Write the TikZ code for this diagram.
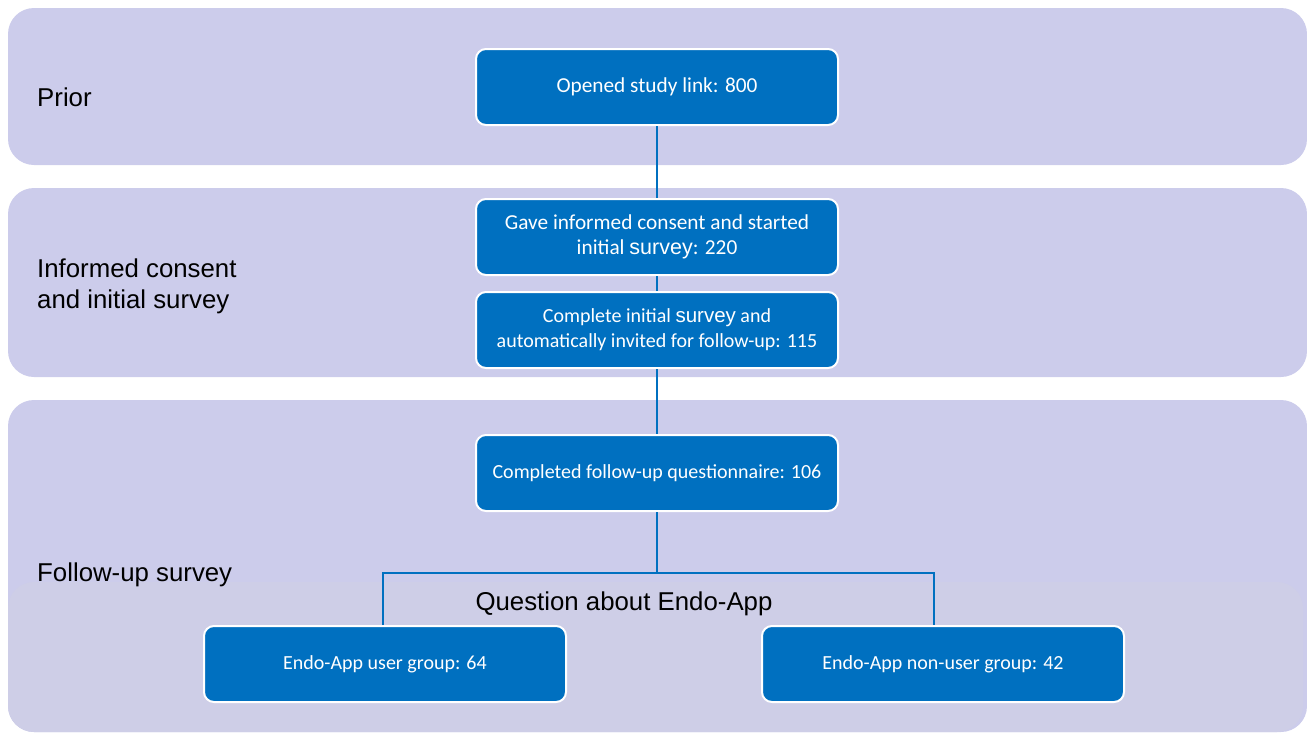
\documentclass[tikz,border=0pt]{standalone}
\usepackage{fontspec}
\setmainfont{Liberation Sans}
\newfontfamily\boxfont{Carlito}
\definecolor{bandc}{HTML}{CCCCEB}
\definecolor{bandlow}{HTML}{CECEE7}
\definecolor{boxc}{HTML}{0070C0}
\begin{document}
\begin{tikzpicture}[x=1pt,y=-1pt,
  band/.style={fill=bandc, draw=none, rounded corners=26pt},
  stepbox/.style={fill=boxc, draw=white, line width=2pt, rounded corners=10pt,
    minimum width=362pt, minimum height=76pt, text=white, align=center,
    font=\boxfont\fontsize{21.3}{25.5}\selectfont, inner sep=0pt},
  smallbox/.style={stepbox, font=\boxfont\fontsize{20}{24}\selectfont},
  lbl/.style={anchor=west, align=left, font=\fontsize{25.8}{31}\selectfont, text=black, inner sep=0pt},
  conn/.style={draw=boxc, line width=2.2pt}]
\useasboundingbox (0,0) rectangle (1307,734);
\clip (0,0) rectangle (1307,734);
% bands
\path[band] (8,8) rectangle (1307,165);
\path[band] (8,188) rectangle (1307,377);
\path[band] (8,400) rectangle (1307,732);
\path[band, fill=bandlow] (8,582) rectangle (1303,732);
% labels
\node[lbl] (l1) at (37,97) {Prior};
\node[lbl] (l2) at (37,286) {Informed consent\\and initial survey};
\node[lbl] (l3) at (37,575) {Follow-up survey};
% boxes
\node[stepbox] (b1) at (657,87) {\raisebox{-2pt}{Opened study link: 800}};
\node[stepbox] (b2) at (657,237) {Gave informed consent and started\\initial {\rmfamily\fontsize{21.5}{25}\selectfont survey}: 220};
\node[stepbox, font=\boxfont\fontsize{20}{25}\selectfont] (b3) at (657,330) {Complete initial {\rmfamily\fontsize{20.5}{25}\selectfont survey} and\\automatically invited for follow-up: 115};
\node[smallbox] (b4) at (657,473) {Completed follow-up questionnaire: 106};
\node[smallbox] (b5) at (385,664) {Endo-App user group: 64};
\node[smallbox] (b6) at (943,664) {Endo-App non-user group: 42};
% connectors
\coordinate (j) at (657,573);
\draw[conn] (b1) -- (b2);
\draw[conn] (b2) -- (b3);
\draw[conn] (b3) -- (b4);
\draw[conn] (b4.south) -- (j);
\draw[conn] (b5.north -| 383,0) |- (j) -| (b6.north -| 934,0);
\node[anchor=base, font=\fontsize{25.8}{31}\selectfont, inner sep=0pt] (q) at (624,610) {Question about Endo-App};
\end{tikzpicture}
\end{document}
